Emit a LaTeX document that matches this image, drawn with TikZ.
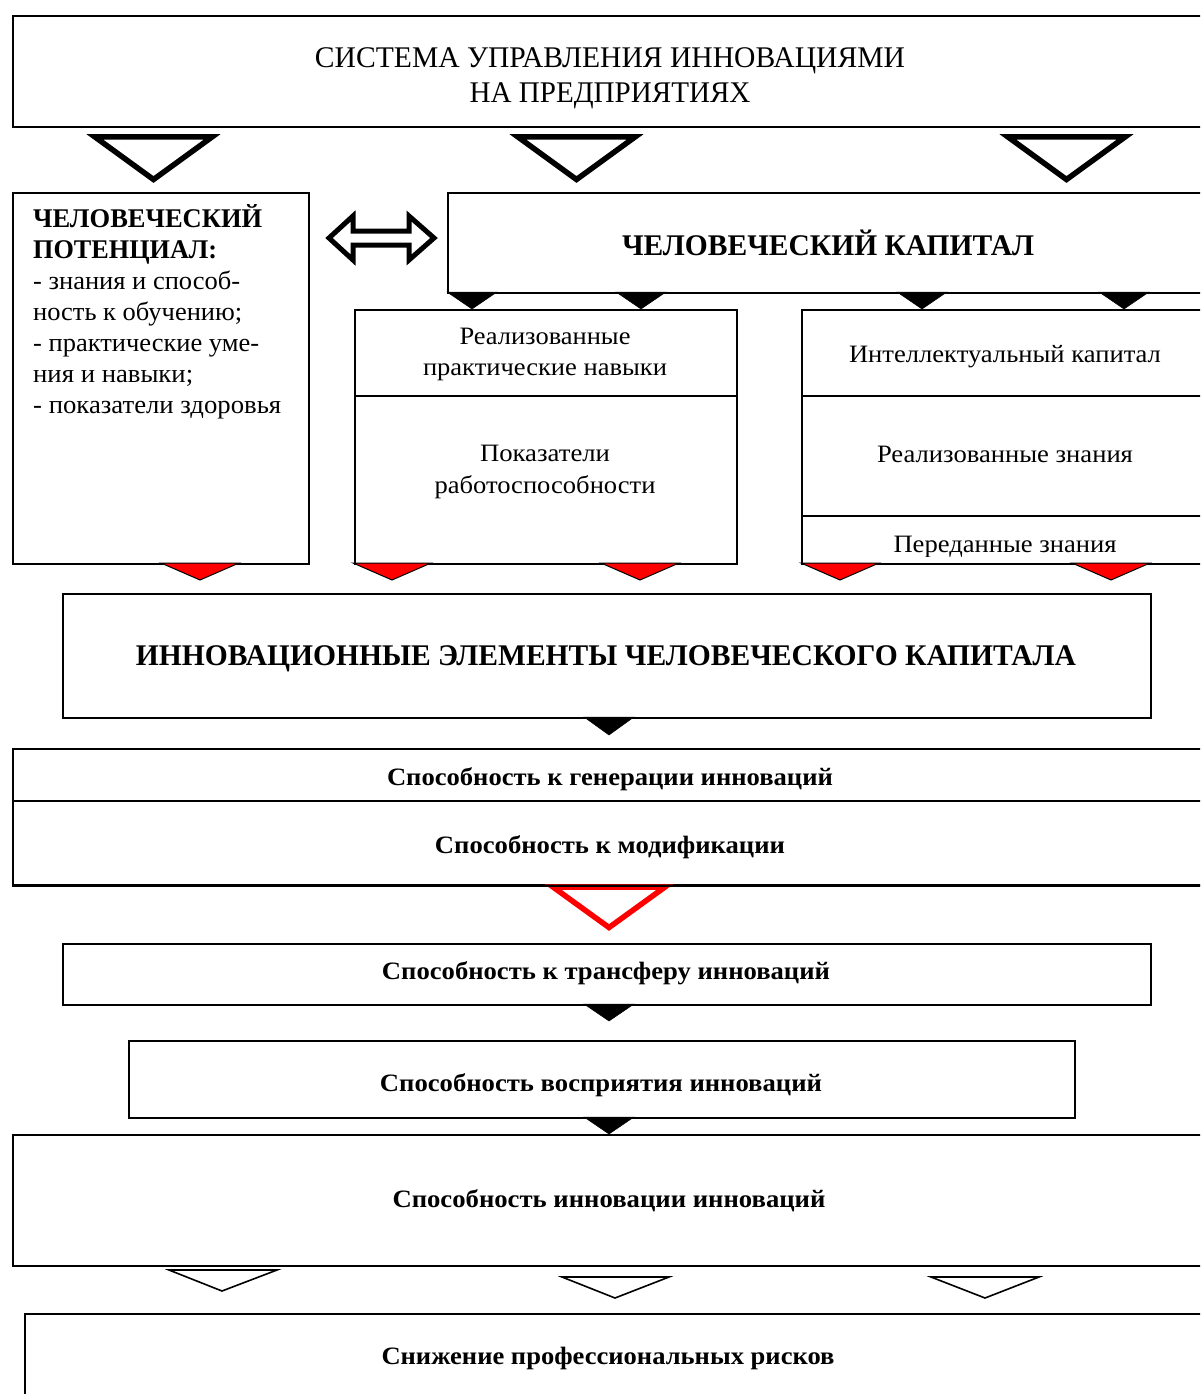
\documentclass[tikz,border=0pt]{standalone}
\usepackage{fontspec}
\setmainfont{Liberation Serif}
\usepackage{graphicx}
\newcommand\fitw[2]{\resizebox{#1pt}{\height}{#2}}
\begin{document}
\begin{tikzpicture}[x=1pt,y=-1pt,
  box/.style={draw, line width=2pt, rectangle, inner sep=0pt, anchor=north west},
  ln/.style={inner sep=0pt, anchor=base},
  lnl/.style={inner sep=0pt, anchor=base west},
  big/.style={font=\fontsize{30}{30}\selectfont},
  bigb/.style={font=\fontsize{30}{30}\selectfont\bfseries},
  mid/.style={font=\fontsize{25}{25}\selectfont},
  midb/.style={font=\fontsize{25}{25}\selectfont\bfseries},
  lb/.style={font=\fontsize{27}{27}\selectfont\bfseries},
  lr/.style={font=\fontsize{26}{26}\selectfont},
  bigtri/.style={draw, line width=5.5pt, fill=white, line join=miter},
  blacktri/.style={fill=black, draw=black, line width=0.5pt},
  redtri/.style={fill=red, draw=black, line width=1pt},
  redout/.style={draw=red, line width=5.5pt, fill=white},
  thintri/.style={draw, line width=1.6pt, fill=white}]
\clip (0,0) rectangle (1200,1394);
\fill[white] (0,0) rectangle (1200,1394);

% ---------- boxes ----------
\node[box, minimum width=1200pt, minimum height=111pt] (top) at (12,15) {};
\node[box, minimum width=296pt, minimum height=371pt] (lp) at (12,192) {};
\node[box, minimum width=760pt, minimum height=100pt] (hc) at (447,192) {};
\node[box, minimum width=382pt, minimum height=254pt] (md) at (354,309) {};
\node[box, minimum width=410pt, minimum height=254pt] (rt) at (801,309) {};
\node[box, minimum width=1088pt, minimum height=124pt] (ie) at (62,593) {};
\node[box, minimum width=1200pt, minimum height=136pt] (gen) at (12,748) {};
\node[box, minimum width=1088pt, minimum height=61pt] (tr) at (62,943) {};
\node[box, minimum width=946pt, minimum height=77pt] (vo) at (128,1040) {};
\node[box, minimum width=1200pt, minimum height=131pt] (inn) at (12,1134) {};
\node[box, minimum width=1190pt, minimum height=120pt] (risk) at (24,1313) {};

% dividers
\draw[line width=2pt] (md.west |- 0,396) -- (md.east |- 0,396);
\draw[line width=2pt] (rt.west |- 0,396) -- (rt.east |- 0,396);
\draw[line width=2pt] (rt.west |- 0,516) -- (rt.east |- 0,516);
\draw[line width=2pt] (gen.west |- 0,801) -- (gen.east |- 0,801);

% ---------- texts ----------
\node[ln, big] (t1) at (610,68) {\fitw{590}{СИСТЕМА УПРАВЛЕНИЯ ИННОВАЦИЯМИ}};
\node[ln, big] (t2) at (610,103) {\fitw{281}{НА ПРЕДПРИЯТИЯХ}};

\node[lnl, lb] (lp1) at (33,227) {\fitw{229}{ЧЕЛОВЕЧЕСКИЙ}};
\node[lnl, lb] (lp2) at (33,258) {\fitw{184}{ПОТЕНЦИАЛ:}};
\node[lnl, lr] (lp3) at (33,289) {\fitw{207}{- знания и способ-}};
\node[lnl, lr] (lp4) at (33,320) {\fitw{209}{ность к обучению;}};
\node[lnl, lr] (lp5) at (33,351) {\fitw{226}{- практические уме-}};
\node[lnl, lr] (lp6) at (33,382) {\fitw{160}{ния и навыки;}};
\node[lnl, lr] (lp7) at (33,413) {\fitw{248}{- показатели здоровья}};

\node[ln, bigb] (hct) at (828,255) {\fitw{412}{ЧЕЛОВЕЧЕСКИЙ КАПИТАЛ}};

\node[ln, mid] (md1) at (545,344) {\fitw{171}{Реализованные}};
\node[ln, mid] (md2) at (545,375) {\fitw{244}{практические навыки}};
\node[ln, mid] (md3) at (545,461) {\fitw{130}{Показатели}};
\node[ln, mid] (md4) at (545,493) {\fitw{221}{работоспособности}};

\node[ln, mid] (rt1) at (1005,362) {\fitw{312}{Интеллектуальный капитал}};
\node[ln, mid] (rt2) at (1005,462) {\fitw{256}{Реализованные знания}};
\begin{scope}
\clip (790,517) rectangle (1200,556);
\node[ln, mid] (rt3) at (1005,552) {\fitw{223}{Переданные знания}};
\end{scope}

\node[ln, bigb] (iet) at (606,665) {\fitw{940}{ИННОВАЦИОННЫЕ ЭЛЕМЕНТЫ ЧЕЛОВЕЧЕСКОГО КАПИТАЛА}};

\node[ln, midb] (g1) at (610,785) {\fitw{446}{Способность к генерации инноваций}};
\node[ln, midb] (g2) at (610,853) {\fitw{350}{Способность к модификации}};
\node[ln, midb] (trt) at (606,979) {\fitw{448}{Способность к трансферу инноваций}};
\node[ln, midb] (vot) at (601,1091) {\fitw{442}{Способность восприятия инноваций}};
\node[ln, midb] (innt) at (609,1207) {\fitw{433}{Способность инновации инноваций}};
\node[ln, midb] (riskt) at (608,1364) {\fitw{453}{Снижение профессиональных рисков}};

% ---------- big outline triangles under the top box ----------
\draw[bigtri] (95,137) -- (212,137) -- (153.5,179.5) -- cycle;
\draw[bigtri] (518,137) -- (635,137) -- (576.5,179.5) -- cycle;
\draw[bigtri] (1008,137) -- (1125,137) -- (1066.5,179.5) -- cycle;

% ---------- double arrow between potential and capital ----------
\draw[line width=5pt, line join=miter, fill=white]
  (329,238) -- (353,216) -- (353,231) -- (409,231) -- (409,216) -- (434,238)
  -- (409,260) -- (409,245) -- (353,245) -- (353,260) -- cycle;

% ---------- black triangles under human capital ----------
\foreach \cx in {472,641,922,1124}
  \filldraw[blacktri] (\cx-25,292) -- (\cx+25,292) -- (\cx,309) -- cycle;

% ---------- red triangles ----------
\foreach \cx in {200,392,640,840,1111}
  \filldraw[redtri] (\cx-39,563) -- (\cx+39,563) -- (\cx,580) -- cycle;

% ---------- black triangles in the chain ----------
\filldraw[blacktri] (584,717) -- (634,717) -- (609,735) -- cycle;
\filldraw[blacktri] (584,1004) -- (634,1004) -- (609,1021) -- cycle;
\filldraw[blacktri] (584,1117) -- (634,1117) -- (609,1134) -- cycle;

% ---------- red outline triangle ----------
\draw[redout] (553,887) -- (665,887) -- (609,927.5) -- cycle;
\draw[line width=2pt] (gen.south west) -- (gen.south east);

% ---------- thin outline triangles ----------
\draw[thintri] (169,1270) -- (277,1270) -- (222,1291) -- cycle;
\draw[thintri] (562,1277) -- (669,1277) -- (615,1298) -- cycle;
\draw[thintri] (931,1277) -- (1039,1277) -- (985,1298) -- cycle;
\end{tikzpicture}
\end{document}
